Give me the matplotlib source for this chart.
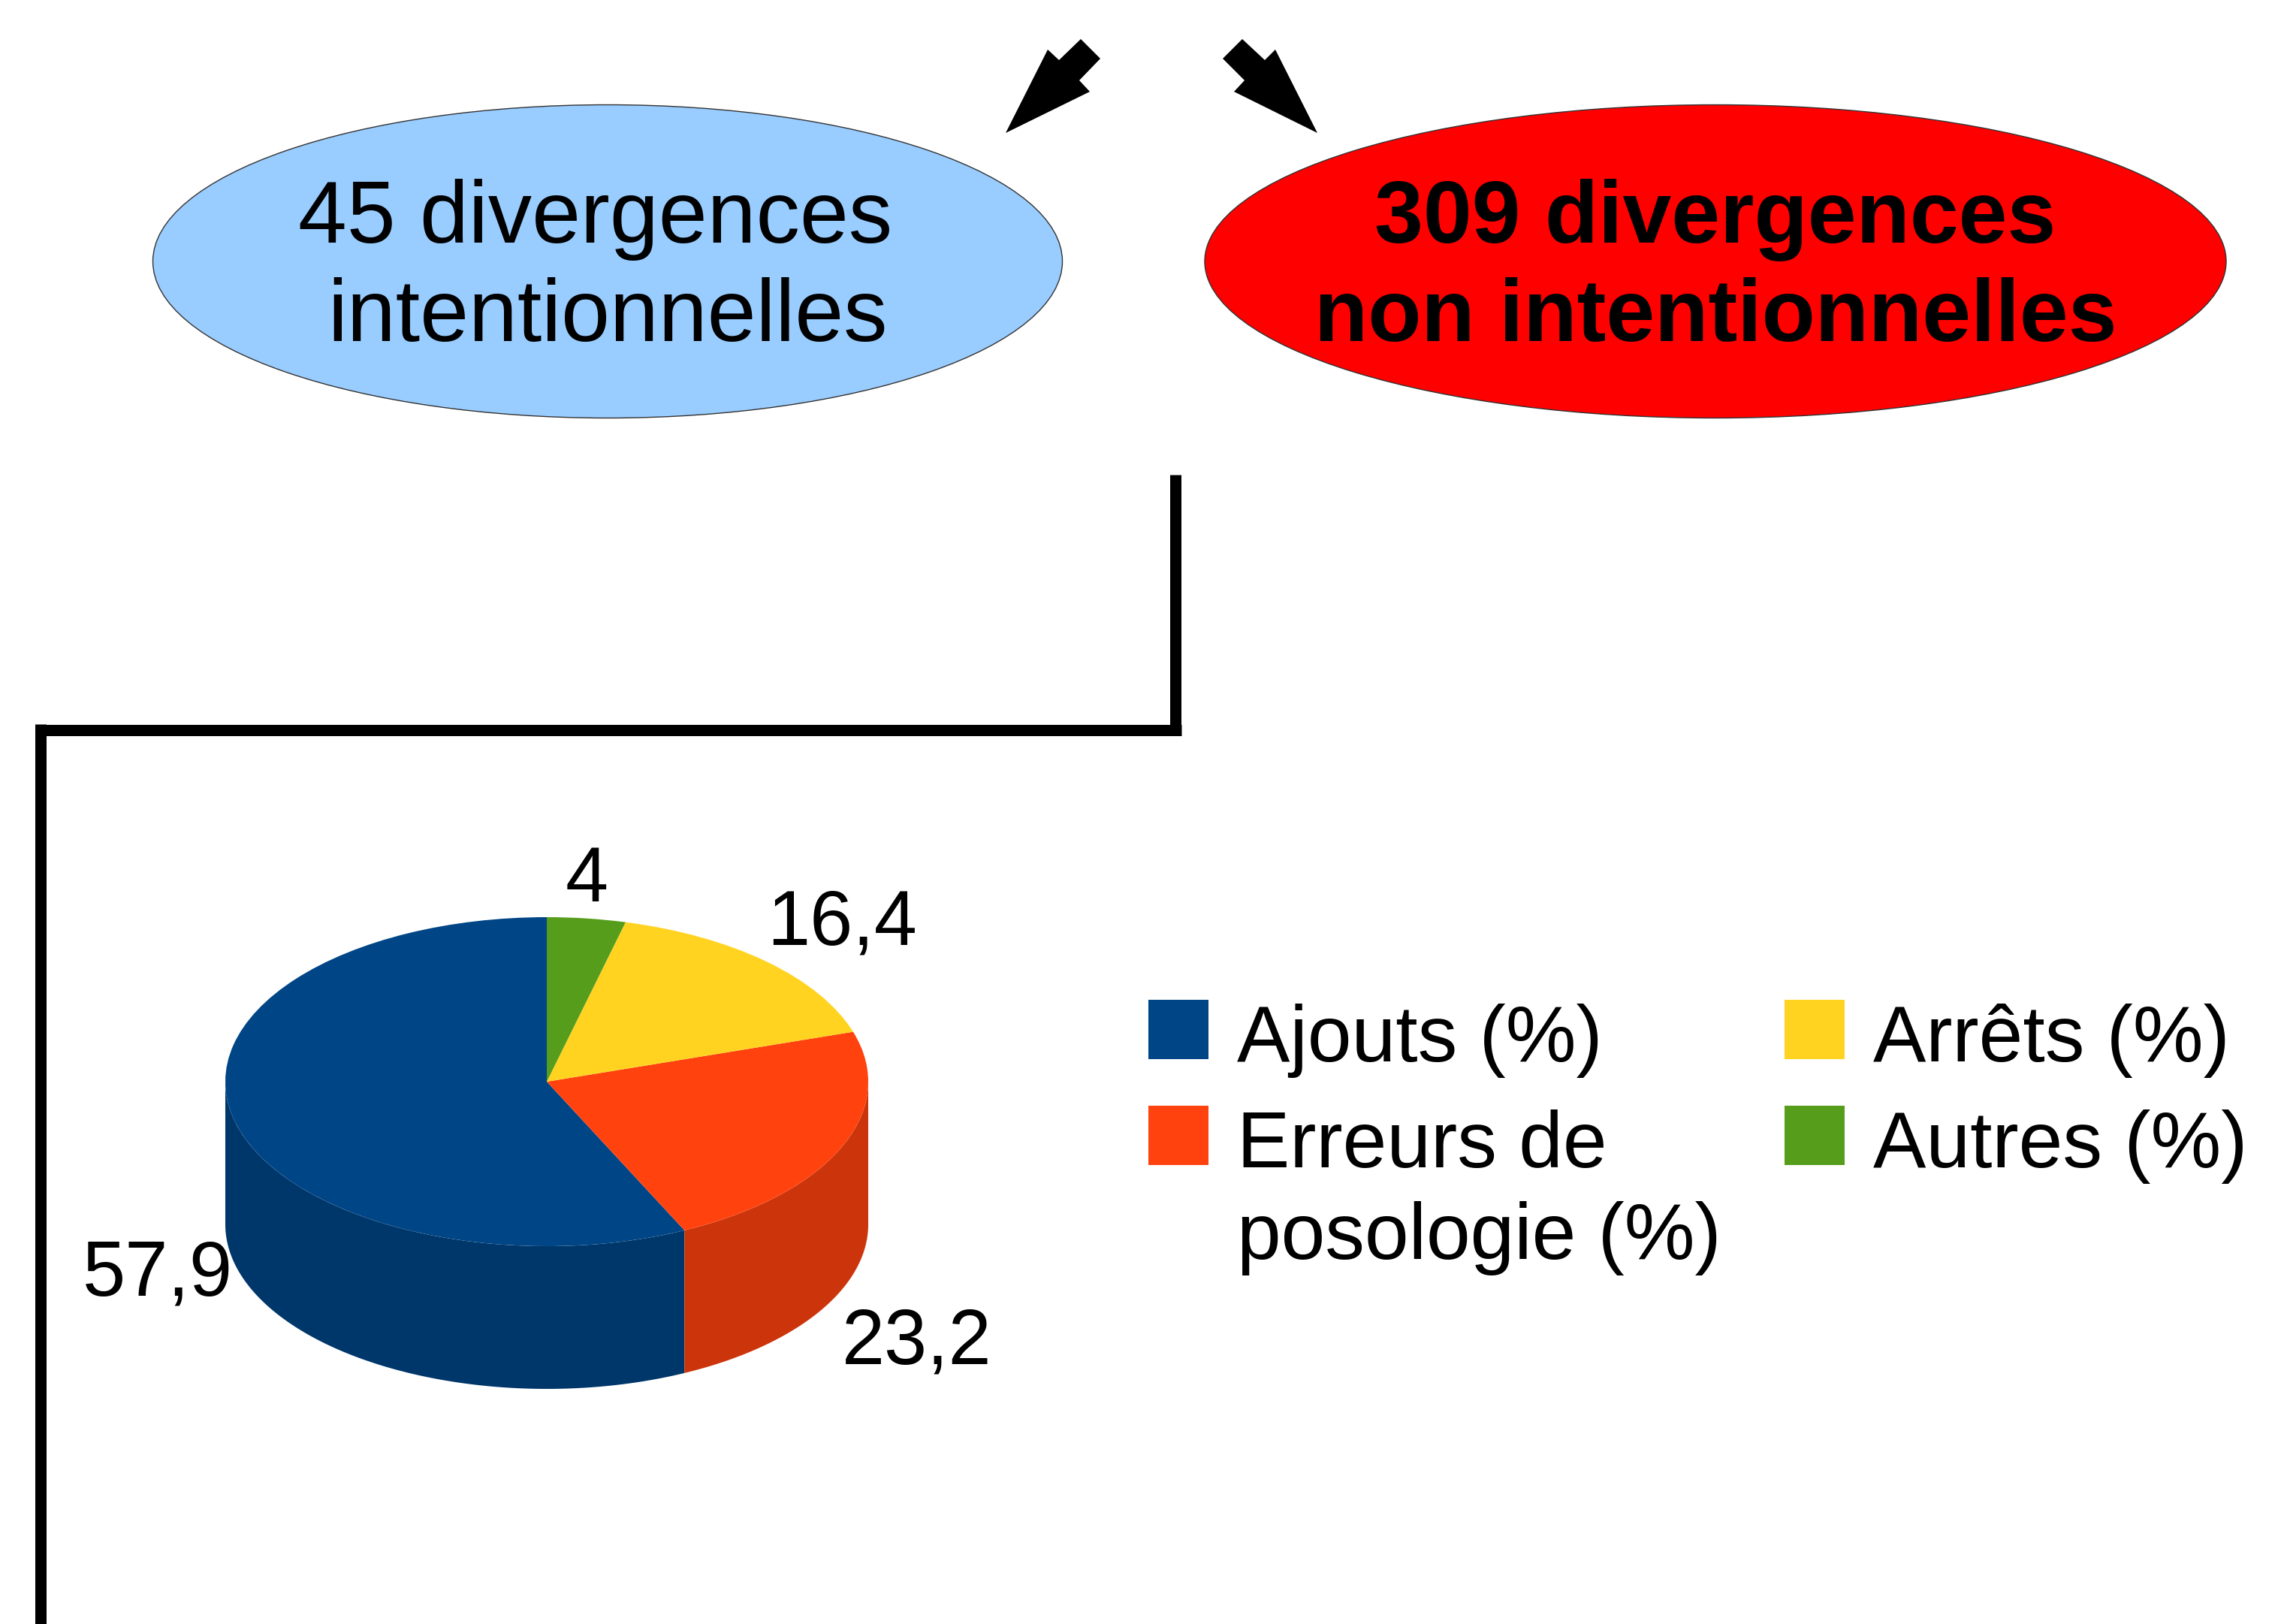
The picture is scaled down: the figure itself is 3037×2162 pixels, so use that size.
import numpy as np
import matplotlib
matplotlib.use("Agg")
import matplotlib.pyplot as plt
from matplotlib.patches import Ellipse, Polygon, Rectangle
from matplotlib.colors import to_rgb

plt.rcParams['font.family'] = ['Liberation Sans', 'DejaVu Sans']

# ---------------- data ----------------
categories = ["Ajouts (%)", "Erreurs de\nposologie (%)", "Arrêts (%)", "Autres (%)"]
values = [57.9, 23.2, 16.4, 4]
colors = ["#004586", "#FF420E", "#FFD320", "#579D1C"]
box_left_text = ["45 divergences ", "intentionnelles"]
box_right_text = ["309 divergences", "non intentionnelles"]

W, H = 3037, 2162
DPI = 100
fig = plt.figure(figsize=(W / DPI, H / DPI), dpi=DPI)
ax = fig.add_axes([0, 0, 1, 1])
ax.set_xlim(0, W)
ax.set_ylim(H, 0)
ax.axis("off")

# ---------------- header ellipses ----------------
ax.add_patch(Ellipse((809, 348), 1211, 417, fc="#99CCFF", ec="#333333", lw=1))
ax.add_patch(Ellipse((2284, 348), 1360, 417, fc="#FF0000", ec="#333333", lw=1))
for i, line in enumerate(box_left_text):
    ax.text(809, 323 + i * 131, line, ha="center", va="baseline", fontsize=84, color="black")
for i, line in enumerate(box_right_text):
    ax.text(2284, 323 + i * 131, line, ha="center", va="baseline", fontsize=84,
            fontweight="bold", color="black")

# ---------------- arrows ----------------
left_arrow = [(1339, 177), (1395, 66), (1410, 80), (1439, 52), (1465, 78), (1437, 107), (1451, 122)]
right_arrow = [(1754, 177), (1698, 66), (1684, 80), (1654, 52), (1628, 78), (1657, 107), (1643, 122)]
ax.add_patch(Polygon(left_arrow, closed=True, fc="black", ec="none"))
ax.add_patch(Polygon(right_arrow, closed=True, fc="black", ec="none"))

# ---------------- connector lines ----------------
lw = 15 * 72 / DPI
ax.plot([1565.5, 1565.5], [632, 979], color="black", lw=lw, solid_capstyle="butt")
ax.plot([47, 1573], [971.5, 971.5], color="black", lw=lw, solid_capstyle="butt")
ax.plot([54, 54], [964, H + 10], color="black", lw=lw, solid_capstyle="butt")
ax.plot([3039, 3039], [593, H + 10], color="black", lw=lw, solid_capstyle="butt")

# ---------------- 3D-looking pie ----------------
cx, cy, rx, ry, depth_px = 728, 1440, 428, 219, 190
depth = depth_px / ry
pax = fig.add_axes([(cx - rx) / W, (H - (cy + ry + depth_px)) / H,
                    2 * rx / W, (2 * ry + depth_px) / H])
wedges, _ = pax.pie(values, colors=colors, startangle=90, counterclock=True,
                    radius=1, center=(0, 0), wedgeprops=dict(linewidth=0))
pax.set_aspect("auto")
pax.set_xlim(-1, 1)
pax.set_ylim(-1 - depth, 1)
pax.axis("off")

for w, c in zip(wedges, colors):
    t = np.radians(np.linspace(w.theta1, w.theta2, 600))
    m = np.sin(t) <= 1e-9
    if m.sum() < 2:
        continue
    tt = t[m]
    top = np.column_stack([np.cos(tt), np.sin(tt)])
    bot = np.column_stack([np.cos(tt[::-1]), np.sin(tt[::-1]) - depth])
    dark = tuple(0.8 * v for v in to_rgb(c))
    pax.add_patch(Polygon(np.vstack([top, bot]), closed=True, fc=dark, ec="none", zorder=0.5))

def fmt(v):
    return f"{v:g}".replace(".", ",")

for w, v in zip(wedges, values):
    a = np.radians((w.theta1 + w.theta2) / 2)
    ca, sa = np.cos(a), np.sin(a)
    ex, ey = ca, sa - (depth if sa < 0 else 0)
    ha = "left" if ca > 0.3 else ("right" if ca < -0.3 else "center")
    if sa > 0.3:
        dy = 23
    elif sa < -0.3:
        dy = -98
    else:
        dy = -46
    pax.annotate(fmt(v), xy=(ex, ey), xytext=(0, dy), textcoords="offset pixels",
                 ha=ha, va="baseline", fontsize=74, annotation_clip=False)

# ---------------- legend ----------------
leg_x = [1529, 1529, 2376, 2376]
leg_y = [1331, 1472, 1331, 1472]
for x, y, lab, c in zip(leg_x, leg_y, categories, colors):
    ax.add_patch(Rectangle((x, y), 80, 79, fc=c, ec="none"))
    for j, line in enumerate(lab.split("\n")):
        ax.text(x + 118, y + 82 + j * 122, line, ha="left", va="baseline", fontsize=76)

fig.savefig("out.png", dpi=DPI)
